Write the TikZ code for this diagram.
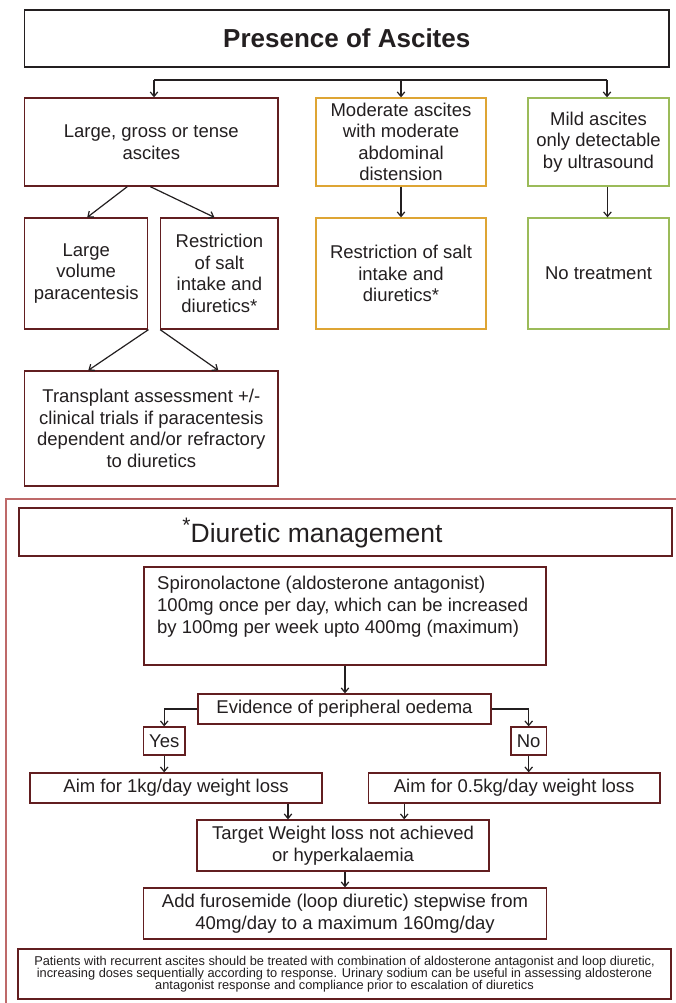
\documentclass[tikz,border=0pt]{standalone}
\usepackage{fontspec}
\setmainfont{Liberation Sans}
\usetikzlibrary{arrows.meta}

\definecolor{maroon}{RGB}{98,30,32}
\definecolor{amber}{RGB}{222,165,52}
\definecolor{leaf}{RGB}{155,187,89}
\definecolor{framered}{RGB}{190,105,105}
\definecolor{ink}{RGB}{35,31,32}

\newcommand{\bodyfont}{\fontsize{18.5}{21.5}\selectfont}
\newcommand{\notefont}{\fontsize{12.8}{12}\selectfont\lineskiplimit=-30pt}

\tikzset{
  boxbase/.style={draw, line width=1.3pt, inner sep=0pt, align=center,
                  text=ink, font=\bodyfont},
  mbox/.style={boxbase, draw=maroon},
  obox/.style={boxbase, draw=amber},
  gbox/.style={boxbase, draw=leaf},
  arr/.style={draw=ink, line width=1.2pt, -{Straight Barb[length=4.5pt,width=7.5pt]}},
  plain/.style={draw=ink, line width=1.6pt},
}

\begin{document}
\begin{tikzpicture}[x=1pt, y=-1pt]
\useasboundingbox (0,0) rectangle (676,1003);
\fill[white] (0,0) rectangle (676,1003);

% ---------- presence of ascites ----------
\node[boxbase, draw=ink, line width=1.1pt, minimum width=644.4pt, minimum height=57pt,
      font=\fontsize{26}{30}\selectfont\bfseries] (T) at (346.8,38.5) {Presence of Ascites};

\coordinate (barL) at (154,80);
\coordinate (barR) at (607,80);

\node[mbox, minimum width=253.4pt, minimum height=88pt] (A) at (151.3,142)
  {Large, gross or tense\\ascites};
\node[obox, minimum width=170pt, minimum height=88pt] (B) at (401,142)
  {Moderate ascites\\with moderate\\abdominal\\distension};
\node[gbox, minimum width=141pt, minimum height=88pt] (C) at (598.5,142)
  {Mild ascites\\only detectable\\by ultrasound};

\node[mbox, minimum width=123.2pt, minimum height=111pt] (D) at (86.2,273.5)
  {Large\\volume\\paracentesis};
\node[mbox, minimum width=117.2pt, minimum height=111pt] (E) at (219.4,273.5)
  {Restriction\\of salt\\intake and\\diuretics*};
\node[obox, minimum width=170pt, minimum height=111pt] (F) at (401,273.5)
  {Restriction of salt\\intake and\\diuretics*};
\node[gbox, minimum width=141pt, minimum height=111pt] (G) at (598.5,273.5)
  {No treatment};

\node[mbox, minimum width=253.4pt, minimum height=115pt] (H) at (151.3,428.5)
  {Transplant assessment +/-\\clinical trials if paracentesis\\dependent and/or refractory\\to diuretics};

% branching bar and arrows
\draw[plain] (barL) -- (barR);
\draw[arr] (barL) -- (barL |- A.north);
\draw[arr] (barL -| B.north) -- (B.north);
\draw[arr] (barR) -- (barR |- C.north);

\draw[arr] ([xshift=-24pt]A.south) -- ([xshift=1pt]D.north);
\draw[arr] ([xshift=-1pt]A.south) -- ([xshift=-5pt]E.north);
\draw[arr] (B.south) -- (F.north);
\draw[arr] ([xshift=9pt]C.south) -- ([xshift=9pt]G.north);
\draw[arr] (D.south east) -- ([xshift=-63pt]H.north);
\draw[arr] (E.south west) -- ([xshift=67pt]H.north);

% ---------- diuretic management panel ----------
\draw[framered, line width=1.6pt] (6,1003) -- (6,499) -- (676,499);

\node[mbox, minimum width=653pt, minimum height=48pt] (M) at (345.5,532) {};
\node[text=ink, inner sep=0pt, font=\fontsize{26.5}{30}\selectfont] (Mlabel) at (312.5,533)
  {\raisebox{0.4em}{\fontsize{21}{21}\selectfont *}Diuretic management};

\node[mbox, minimum width=402pt, minimum height=98pt] (S) at (345,616) {};
\node[text=ink, inner sep=0pt, align=left, anchor=north west, font=\fontsize{18.5}{22}\selectfont]
  (Stext) at (157,576)
  {Spironolactone (aldosterone antagonist)\\100mg once per day, which can be increased\\by 100mg per week upto 400mg (maximum)};

\node[mbox, minimum width=293pt, minimum height=30pt] (E1) at (344.5,709)
  {Evidence of peripheral oedema};
\node[mbox, minimum width=41.5pt, minimum height=28pt] (Y) at (164.2,741) {Yes};
\node[mbox, minimum width=35.5pt, minimum height=28pt] (N) at (528.7,741) {No};

\node[mbox, minimum width=292pt, minimum height=30pt] (A1) at (176,788)
  {Aim for 1kg/day weight loss};
\node[mbox, minimum width=291.5pt, minimum height=30pt] (A2) at (514.2,788)
  {Aim for 0.5kg/day weight loss};

\node[mbox, minimum width=292pt, minimum height=51pt, font=\fontsize{18.5}{22}\selectfont] (Tg) at (343,845.5)
  {Target Weight loss not achieved\\or hyperkalaemia};
\node[mbox, minimum width=403pt, minimum height=51pt, font=\fontsize{18.5}{22}\selectfont] (Ad) at (345,913.5)
  {Add furosemide (loop diuretic) stepwise from\\40mg/day to a maximum 160mg/day};

\node[mbox, minimum width=653pt, minimum height=50pt, font=\notefont] (Fn) at (344.5,974)
  {Patients with recurrent ascites should be treated with combination of aldosterone antagonist and loop diuretic,\\
   increasing doses sequentially according to response. Urinary sodium can be useful in assessing aldosterone\\
   antagonist response and compliance prior to escalation of diuretics};

% connectors
\draw[arr] (S.south) -- (S.south |- E1.north);
\draw[arr] (E1.west) -| (Y.north);
\draw[arr] (E1.east) -| (N.north);
\draw[arr] (Y.south) -- (Y.south |- A1.north);
\draw[arr] (N.south) -- (N.south |- A2.north);
\draw[arr] ([xshift=112pt]A1.south) -- ([xshift=112pt]A1.south |- Tg.north);
\draw[arr] ([xshift=-110pt]A2.south) -- ([xshift=-110pt]A2.south |- Tg.north);
\draw[arr] (Tg.south -| Ad.north) -- (Ad.north);
\end{tikzpicture}
\end{document}
